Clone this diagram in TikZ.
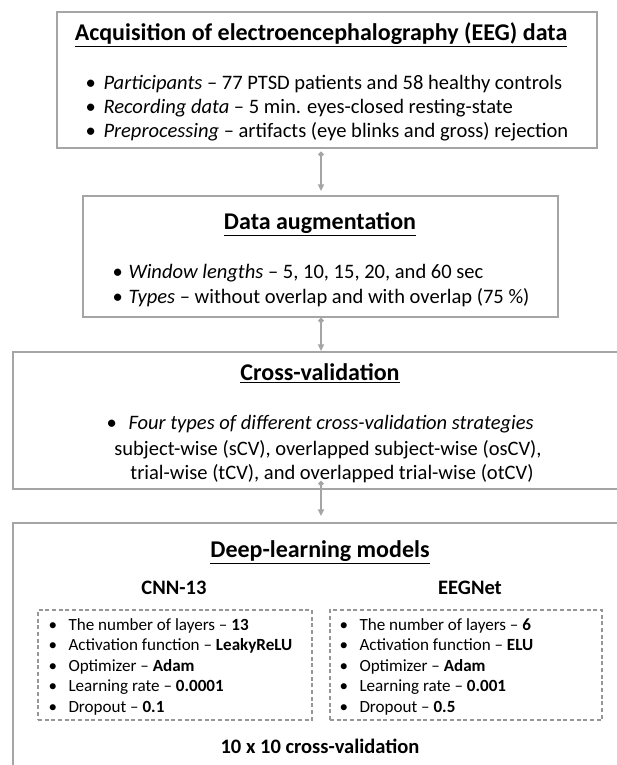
\documentclass[tikz,border=0pt]{standalone}
\usepackage{fontspec}
\setmainfont{Carlito}
\usetikzlibrary{arrows.meta,fit}

\definecolor{boxgray}{RGB}{165,165,165}
\definecolor{dashgray}{RGB}{150,150,150}

\tikzset{every picture/.style={line width=0.75pt}}
\tikzset{
  box/.style={draw=boxgray, line width=1.5pt, inner sep=0pt},
  dbox/.style={draw=dashgray, line width=1pt, dash pattern=on 3pt off 2pt, inner sep=0pt},
  ttl/.style={anchor=base, inner sep=0pt, font=\fontsize{18}{21}\selectfont\bfseries},
  subttl/.style={anchor=base, inner sep=0pt, font=\fontsize{15.4}{18}\selectfont\bfseries},
  itm/.style={anchor=base west, inner sep=0pt, font=\fontsize{15.4}{18}\selectfont},
  ctr/.style={anchor=base, inner sep=0pt, font=\fontsize{15.4}{18}\selectfont},
  sitm/.style={anchor=base west, inner sep=0pt, font=\fontsize{12.8}{15}\selectfont},
  conn/.style={draw=boxgray, line width=1.2pt, {Circle[length=4pt]}-{Triangle[length=5pt,width=4.5pt]}},
}

\begin{document}
\begin{tikzpicture}[x=0.75pt,y=0.75pt,yscale=-1,xscale=1]
\useasboundingbox (0,0) rectangle (617,765);
\clip (0,0) rectangle (617,765);

%Shape: Rectangle [acquisition]
\node [box, fit={(57,12) (597,148)}] (acq) {};
%Shape: Rectangle [augmentation]
\node [box, fit={(83,196) (558,317)}] (aug) {};
%Shape: Rectangle [cross-validation]
\node [box, fit={(13,352) (627,489)}] (cv) {};
%Shape: Rectangle [deep learning]
\node [box, fit={(13,523) (627,800)}] (dl) {};
%Shape: Rectangle [dashed, CNN-13]
\node [dbox, fit={(38,610) (312,720)}] (cnnbox) {};
%Shape: Rectangle [dashed, EEGNet]
\node [dbox, fit={(330,610) (602,720)}] (eegbox) {};

%Straight Lines
\draw [conn, shorten <=2pt, shorten >=3pt] (acq.south -| 321,0) -- (aug.north -| 321,0);
\draw [conn] (aug.south -| 321,0) -- (cv.north -| 321,0);
\draw [conn, shorten <=-6.75pt, shorten >=4.5pt] (cv.south -| 321,0) -- (dl.north -| 321,0);

% Text Node
\node [ttl] (acqttl) at (321,40) {\underline{Acquisition of electroencephalography (EEG) data}};
\node [itm] (acqb1) at (85,89) {•};
\node [itm] (acqi1) at (103,89) {\textit{Participants} – 77 PTSD patients and 58 healthy controls};
\node [itm] (acqb2) at (85,113) {•};
\node [itm] (acqi2) at (103,113) {\textit{Recording data} – 5 min. eyes-closed resting-state};
\node [itm] (acqb3) at (85,137) {•};
\node [itm] (acqi3) at (103,137) {\textit{Preprocessing} – artifacts (eye blinks and gross) rejection};

% Text Node
\node [ttl] (augttl) at (320,229) {\underline{Data augmentation}};
\node [itm] (augb1) at (112,278) {•};
\node [itm] (augi1) at (128,278) {\textit{Window lengths} – 5, 10, 15, 20, and 60 sec};
\node [itm] (augb2) at (112,303) {•};
\node [itm] (augi2) at (128,303) {\textit{Types} – without overlap and with overlap (75 \%)};

% Text Node
\node [ttl] (cvttl) at (320,380) {\underline{Cross-validation}};
\node [itm] (cvb1) at (106,429) {•};
\node [itm] (cvi1) at (128,429) {\textit{Four types of different cross-validation strategies}};
\node [ctr] (cvi2) at (328,455) {subject-wise (sCV), overlapped subject-wise (osCV),};
\node [ctr] (cvi3) at (332,479) {trial-wise (tCV), and overlapped trial-wise (otCV)};

% Text Node
\node [ttl] (dlttl) at (320,557) {\underline{Deep-learning models}};
\node [subttl] (cnnttl) at (174,594) {CNN-13};
\node [subttl] (eegttl) at (470,594) {EEGNet};

% Text Node [CNN-13 items]
\node [sitm] (cnnb1) at (48,630) {•};
\node [sitm] (cnni1) at (68,630) {The number of layers – \textbf{13}};
\node [sitm] (cnnb2) at (48,650.5) {•};
\node [sitm] (cnni2) at (68,650.5) {Activation function – \textbf{LeakyReLU}};
\node [sitm] (cnnb3) at (48,671) {•};
\node [sitm] (cnni3) at (68,671) {Optimizer – \textbf{Adam}};
\node [sitm] (cnnb4) at (48,691.5) {•};
\node [sitm] (cnni4) at (68,691.5) {Learning rate – \textbf{0.0001}};
\node [sitm] (cnnb5) at (48,712) {•};
\node [sitm] (cnni5) at (68,712) {Dropout – \textbf{0.1}};

% Text Node [EEGNet items]
\node [sitm] (eegb1) at (339,630) {•};
\node [sitm] (eegi1) at (359,630) {The number of layers – \textbf{6}};
\node [sitm] (eegb2) at (339,650.5) {•};
\node [sitm] (eegi2) at (359,650.5) {Activation function – \textbf{ELU}};
\node [sitm] (eegb3) at (339,671) {•};
\node [sitm] (eegi3) at (359,671) {Optimizer – \textbf{Adam}};
\node [sitm] (eegb4) at (339,691.5) {•};
\node [sitm] (eegi4) at (359,691.5) {Learning rate – \textbf{0.001}};
\node [sitm] (eegb5) at (339,712) {•};
\node [sitm] (eegi5) at (359,712) {Dropout – \textbf{0.5}};

% Text Node
\node [subttl] (cvnote) at (320,753) {10 x 10 cross-validation};

\end{tikzpicture}
\end{document}
